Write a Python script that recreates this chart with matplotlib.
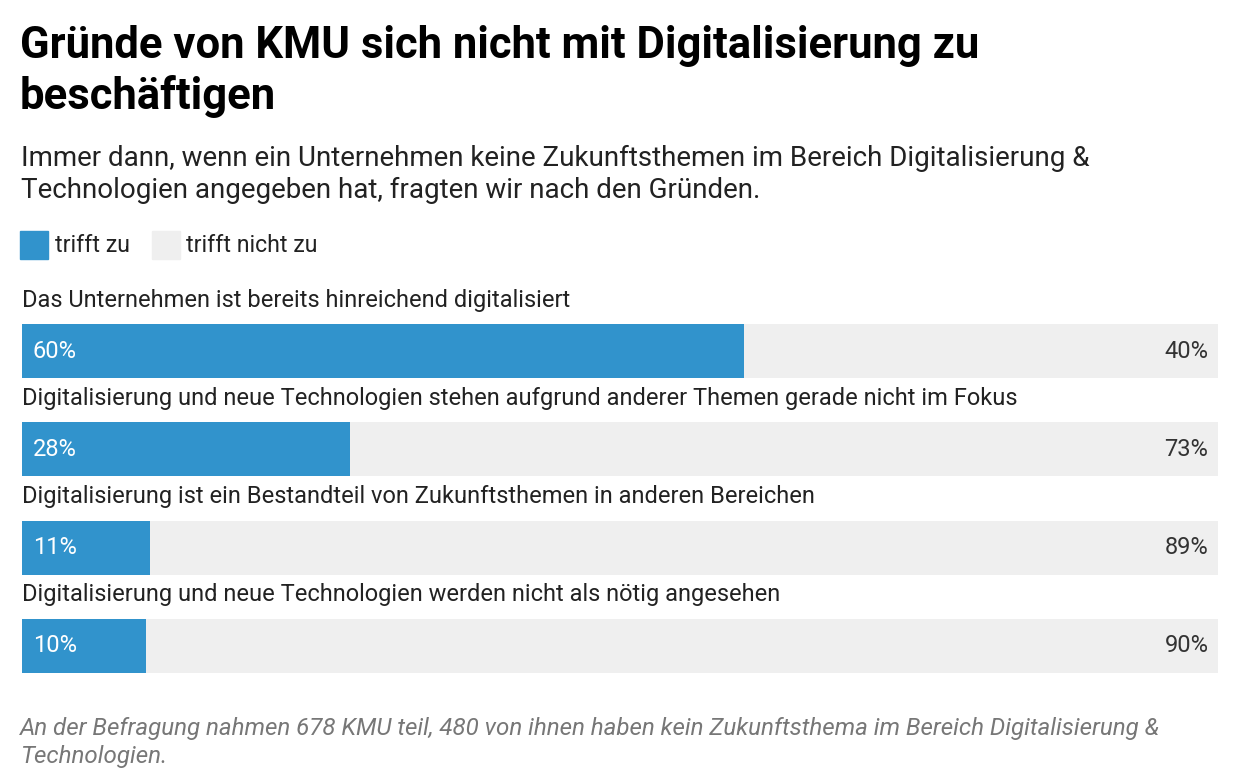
import matplotlib.pyplot as plt
from matplotlib.patches import Rectangle

plt.rcParams['font.family'] = ['Roboto', 'DejaVu Sans']

categories = [
    "Das Unternehmen ist bereits hinreichend digitalisiert",
    "Digitalisierung und neue Technologien stehen aufgrund anderer Themen gerade nicht im Fokus",
    "Digitalisierung ist ein Bestandteil von Zukunftsthemen in anderen Bereichen",
    "Digitalisierung und neue Technologien werden nicht als nötig angesehen",
]
trifft_zu = [60.4, 27.4, 10.7, 10.4]
label_zu = ["60%", "28%", "11%", "10%"]
label_nicht = ["40%", "73%", "89%", "90%"]

BLUE = "#3193cc"
GREY = "#efefef"

W, H = 1240, 780
fig = plt.figure(figsize=(12.4, 7.8), dpi=100)

def fy(px):
    return 1 - px / H

fig.text(20 / W, fy(46), "Gründe von KMU sich nicht mit Digitalisierung zu", fontsize=31.4,
         fontweight='bold', va='center')
fig.text(20 / W, fy(96), "beschäftigen", fontsize=31.4, fontweight='bold', va='center')
fig.text(21 / W, fy(158), "Immer dann, wenn ein Unternehmen keine Zukunftsthemen im Bereich Digitalisierung &",
         fontsize=20, va='center', color='#222222')
fig.text(21 / W, fy(190), "Technologien angegeben hat, fragten wir nach den Gründen.",
         fontsize=20, va='center', color='#222222')

# legend
fig.patches.append(Rectangle((20 / W, fy(259)), 28 / W, 28 / H, transform=fig.transFigure,
                             color=BLUE))
fig.text(55 / W, fy(245), "trifft zu", fontsize=16.7, va='center', color='#222222')
fig.patches.append(Rectangle((152 / W, fy(259)), 28 / W, 28 / H, transform=fig.transFigure,
                             color=GREY))
fig.text(186 / W, fy(245), "trifft nicht zu", fontsize=16.7, va='center', color='#222222')

ax = fig.add_axes([22 / W, fy(690), (1218 - 22) / W, (690 - 285) / H])
ax.set_xlim(0, 100)
ax.set_ylim(690, 285)
ax.axis('off')

for i, (cat, v) in enumerate(zip(categories, trifft_zu)):
    yc = 351 + 98.3 * i
    ax.barh(yc, v, height=54, color=BLUE, left=0)
    ax.barh(yc, 100 - v, height=54, color=GREY, left=v)
    ax.text(0, yc - 51, cat, fontsize=17, va='center', ha='left', color='#222222')
    ax.text(0.9, yc, label_zu[i], fontsize=17, va='center', ha='left', color='white')
    ax.text(99.2, yc, label_nicht[i], fontsize=17, va='center', ha='right', color='#333333')

fig.text(20 / W, fy(728), "An der Befragung nahmen 678 KMU teil, 480 von ihnen haben kein Zukunftsthema im Bereich Digitalisierung &",
         fontsize=17.4, style='italic', color='#777777', va='center')
fig.text(20 / W, fy(756), "Technologien.", fontsize=17.4, style='italic', color='#777777', va='center')

fig.savefig("out.png", dpi=100, facecolor='white')
